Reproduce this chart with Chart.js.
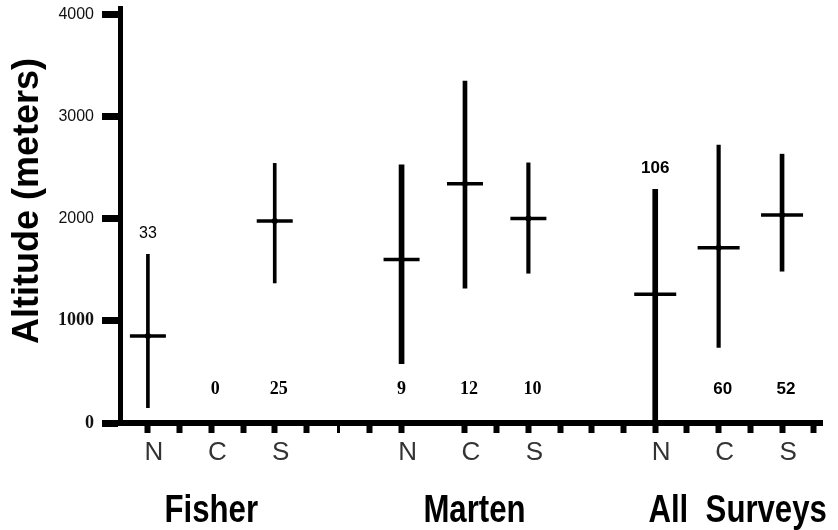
<!DOCTYPE html>
<html lang="en">
<head>
<meta charset="UTF-8">
<title>Altitude of detections</title>
<script src="https://cdn.jsdelivr.net/npm/chart.js"></script>
<style>
  html, body { margin: 0; padding: 0; background: #fff; }
</style>
</head>
<body>
<canvas id="chart" width="838" height="530"></canvas>
<script>
// survey groups and the region (North / Central / South) within each
const groups = ['Fisher', 'Marten', 'All  Surveys'];
const groupCenters = [2, 10.3, 18.6];
const categories = ['N', 'C', 'S', 'N', 'C', 'S', 'N', 'C', 'S'];
const positions = [0, 2, 4, 8, 10, 12, 16, 18, 20];

// altitude in meters: mean and range per region
const means = [850, null, 1975, 1600, 2340, 2000, 1260, 1715, 2035];
const lows  = [150, null, 1370, 580, 1320, 1465, 0, 740, 1485];
const highs = [1650, null, 2540, 2525, 3345, 2545, 2285, 2720, 2630];

// number of detections, printed above the range or along the bottom
const sampleSizes = [33, 0, 25, 9, 12, 10, 106, 60, 52];
const sampleAbove = [true, false, false, false, false, false, true, false, false];

const yTicks = [0, 1000, 2000, 3000, 4000];

// stroke weight of each range line
const barWidths = [3, 0, 3, 5, 4, 3.5, 5, 3.5, 4];

const sans = "'Liberation Sans', Arial, sans-serif";
const serif = "'Liberation Serif', 'Times New Roman', serif";

// one floating-bar dataset per stroke weight
const rangeSets = [...new Set(barWidths.filter(w => w > 0))].map(w => ({
    type: 'bar',
    data: positions.map((x, i) => barWidths[i] === w && lows[i] !== null ? { x: x, y: [lows[i], highs[i]] } : { x: x, y: null }),
    backgroundColor: '#000',
    barThickness: w,
    grouped: false,
    order: 3
}));

const meanPoints = positions.map((x, i) => ({ x: x, y: means[i] }));

const textPlugin = {
    id: 'textPlugin',
    afterDraw(chart) {
        const ctx = chart.ctx;
        const xs = chart.scales.x, ys = chart.scales.y;
        ctx.save();
        ctx.fillStyle = '#000';

        // axis title
        ctx.save();
        ctx.translate(38, 201);
        ctx.rotate(-Math.PI / 2);
        ctx.font = 'bold 36px ' + sans;
        ctx.textAlign = 'center';
        ctx.textBaseline = 'alphabetic';
        ctx.fillText('Altitude (meters)', 0, 0);
        ctx.restore();

        // group names under the axis, in a condensed bold face
        ctx.font = 'bold 38px ' + sans;
        ctx.textAlign = 'center';
        ctx.textBaseline = 'alphabetic';
        groups.forEach((g, i) => {
            const cx = xs.getPixelForValue(groupCenters[i]);
            ctx.save();
            ctx.translate(cx, 522);
            ctx.scale(0.82, 1);
            ctx.fillText(g, 0, 0);
            ctx.restore();
        });

        // sample sizes
        ctx.textBaseline = 'middle';
        sampleSizes.forEach((n, i) => {
            const g = Math.floor(i / 3);
            if (g === 0 && sampleAbove[i]) ctx.font = '16px ' + sans;
            else if (g === 2) ctx.font = 'bold 17px ' + sans;
            else ctx.font = 'bold 18px ' + serif;
            const x = xs.getPixelForValue(positions[i]) + (i % 3 === 0 ? 0 : 4);
            const y = sampleAbove[i] ? ys.getPixelForValue(highs[i]) - 21 : 389;
            ctx.fillText(String(n), x, y);
        });
        ctx.restore();
    }
};

new Chart(document.getElementById('chart'), {
    type: 'scatter',
    data: {
        datasets: [
            {
                // horizontal mark at the mean
                data: meanPoints,
                pointStyle: 'line',
                pointRadius: ctx => ctx.dataIndex >= 6 ? 21 : 18,
                pointBorderWidth: 3.5,
                pointBorderColor: '#000',
                pointBackgroundColor: '#000',
                order: 2
            },
            {
                data: meanPoints,
                pointStyle: 'circle',
                pointRadius: 3,
                pointBorderWidth: 0,
                pointBackgroundColor: '#000',
                order: 1
            },
            ...rangeSets
        ]
    },
    options: {
        responsive: false,
        animation: false,
        devicePixelRatio: 1,
        layout: { autoPadding: false, padding: { top: 8, right: 16, left: 0, bottom: 0 } },
        plugins: {
            legend: { display: false },
            tooltip: { enabled: false }
        },
        scales: {
            x: {
                type: 'linear',
                min: -0.88,
                max: 21.26,
                offset: false,
                afterBuildTicks: scale => {
                    scale.ticks = [];
                    for (let k = 0; k <= 21; k++) scale.ticks.push({ value: k });
                },
                afterFit: scale => {
                    scale.height = 107;
                    scale.paddingLeft = 0;
                    scale.paddingRight = 0;
                },
                border: { display: true, color: '#000', width: 6 },
                grid: {
                    offset: false,
                    drawOnChartArea: false,
                    drawTicks: true,
                    tickLength: 10,
                    tickWidth: ctx => ctx.tick && ctx.tick.value === 6 ? 3 : 6,
                    tickColor: ctx => ctx.tick && ctx.tick.value === 9 ? 'rgba(0,0,0,0)' : '#000'
                },
                ticks: {
                    autoSkip: false,
                    maxRotation: 0,
                    padding: 4,
                    labelOffset: 6,
                    color: '#333',
                    font: { family: sans, size: 26 },
                    callback: value => {
                        const i = positions.indexOf(value);
                        return i >= 0 ? categories[i] : '';
                    }
                }
            },
            y: {
                min: 0,
                max: 4060,
                afterBuildTicks: scale => {
                    scale.ticks = yTicks.map(v => ({ value: v }));
                },
                afterFit: scale => {
                    scale.width = 120;
                    scale.paddingTop = 0;
                    scale.paddingBottom = 0;
                },
                border: { display: true, color: '#000', width: 5 },
                grid: {
                    drawOnChartArea: false,
                    drawTicks: true,
                    tickLength: 18,
                    tickWidth: 7,
                    tickColor: '#000'
                },
                ticks: {
                    padding: 8,
                    color: '#111',
                    callback: value => String(value),
                    font: ctx => ctx.tick && ctx.tick.value <= 1000
                        ? { family: serif, size: 18, weight: 'bold' }
                        : { family: sans, size: 16 }
                }
            }
        }
    },
    plugins: [textPlugin]
});
</script>
</body>
</html>
